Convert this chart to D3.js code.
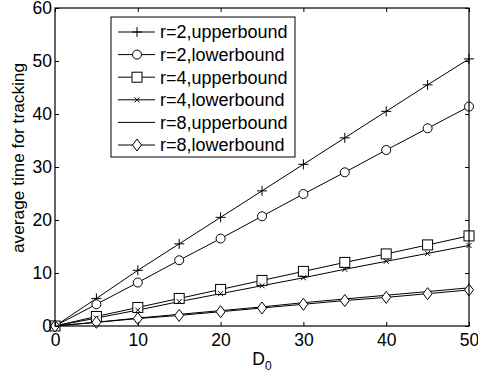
<!DOCTYPE html>
<html>
<head>
<meta charset="utf-8">
<script src="https://cdn.jsdelivr.net/npm/d3@7"></script>
<style>
  body { margin: 0; background: #fff; }
  text { font-family: "Liberation Sans", Arial, sans-serif; }
</style>
</head>
<body>
<div id="chart"></div>
<script>
const D0 = [0, 5, 10, 15, 20, 25, 30, 35, 40, 45, 50];
const r2Upper = [0, 5.2, 10.5, 15.5, 20.5, 25.5, 30.5, 35.5, 40.5, 45.5, 50.4];
const r2Lower = [0, 4.1, 8.2, 12.4, 16.5, 20.7, 24.9, 29.0, 33.2, 37.3, 41.4];
const r4Upper = [0, 1.8, 3.5, 5.2, 6.9, 8.6, 10.3, 12.0, 13.6, 15.3, 17.0];
const r4Lower = [0, 1.5, 3.0, 4.6, 6.1, 7.6, 9.1, 10.7, 12.2, 13.7, 15.2];
const r8Upper = [0, 0.7, 1.5, 2.2, 2.9, 3.6, 4.4, 5.1, 5.8, 6.5, 7.2];
const r8Lower = [0, 0.7, 1.4, 2.0, 2.7, 3.4, 4.1, 4.8, 5.4, 6.1, 6.8];
const seriesNames = ["r=2,upperbound", "r=2,lowerbound", "r=4,upperbound", "r=4,lowerbound", "r=8,upperbound", "r=8,lowerbound"];
const markers = ["plus", "circle", "square", "cross", "none", "diamond"];
const xTicks = [0, 10, 20, 30, 40, 50];
const yTicks = [0, 10, 20, 30, 40, 50, 60];

const series = [r2Upper, r2Lower, r4Upper, r4Lower, r8Upper, r8Lower].map((v, i) => ({
  name: seriesNames[i], marker: markers[i], values: v.map((y, j) => ({x: D0[j], y}))
}));

const W = 478, H = 377;
const margin = {top: 8, right: 9, bottom: 51, left: 55};
const width = W - margin.left - margin.right;
const height = H - margin.top - margin.bottom;

const svg = d3.select("#chart").append("svg")
  .attr("width", W).attr("height", H);
const g = svg.append("g").attr("transform", `translate(${margin.left},${margin.top})`);

const x = d3.scaleLinear().domain([0, 50]).range([0, width]);
const y = d3.scaleLinear().domain([0, 60]).range([height, 0]);

function drawMarker(sel, type) {
  const s = sel.append("g").attr("fill", "none").attr("stroke", "#000").attr("stroke-width", 1);
  if (type === "plus") {
    s.append("path").attr("d", "M-5,0H5M0,-5V5");
  } else if (type === "circle") {
    s.append("circle").attr("r", 4.5).attr("fill", "#fff");
  } else if (type === "square") {
    s.append("rect").attr("x", -5).attr("y", -5).attr("width", 10).attr("height", 10).attr("fill", "#fff");
  } else if (type === "cross") {
    s.append("path").attr("d", "M-2.5,-2.5L2.5,2.5M-2.5,2.5L2.5,-2.5");
  } else if (type === "diamond") {
    s.append("path").attr("d", "M0,-6L4.5,0L0,6L-4.5,0Z").attr("fill", "#fff");
  }
}

// series lines
const line = d3.line().x(d => x(d.x)).y(d => y(d.y));
series.forEach(s => {
  g.append("path").datum(s.values)
    .attr("fill", "none").attr("stroke", "#000").attr("stroke-width", 1)
    .attr("d", line);
});
series.forEach(s => {
  if (s.marker === "none") return;
  g.selectAll(null).data(s.values).enter().append("g")
    .attr("transform", d => `translate(${x(d.x)},${y(d.y)})`)
    .each(function() { drawMarker(d3.select(this), s.marker); });
});

// axes, inward ticks
const tick = 4;
const axisStyle = a => {
  a.select(".domain").remove();
  a.selectAll("line").attr("stroke", "#000");
  a.selectAll("text").attr("font-size", "17.5px").attr("fill", "#000");
};
g.append("g").attr("transform", `translate(0,${height})`)
  .call(d3.axisBottom(x).tickValues(xTicks).tickSize(-tick).tickPadding(8))
  .call(axisStyle);
g.append("g")
  .call(d3.axisLeft(y).tickValues(yTicks).tickSize(-tick).tickPadding(3))
  .call(axisStyle);
g.append("g")
  .call(d3.axisTop(x).tickValues(xTicks).tickSize(-tick).tickFormat(""))
  .call(axisStyle);
g.append("g").attr("transform", `translate(${width},0)`)
  .call(d3.axisRight(y).tickValues(yTicks).tickSize(-tick).tickFormat(""))
  .call(axisStyle);
g.append("rect").attr("width", width).attr("height", height)
  .attr("fill", "none").attr("stroke", "#000").attr("stroke-width", 1.2);

// axis labels
const xl = svg.append("text").attr("x", margin.left + width / 2).attr("y", 365)
  .attr("text-anchor", "middle").attr("font-size", "17.5px");
xl.append("tspan").text("D");
xl.append("tspan").attr("font-size", "12px").attr("dy", 5).text("0");
svg.append("text").attr("transform", "translate(24,158) rotate(-90)")
  .attr("text-anchor", "middle").attr("font-size", "17.3px").text("average time for tracking");

// legend
const lg = svg.append("g").attr("transform", "translate(111,17)");
lg.append("rect").attr("width", 184).attr("height", 140)
  .attr("fill", "#fff").attr("stroke", "#000").attr("stroke-width", 1);
series.forEach((s, i) => {
  const row = lg.append("g").attr("transform", `translate(0,${15 + i * 22.6})`);
  row.append("line").attr("x1", 7).attr("x2", 44).attr("stroke", "#000");
  drawMarker(row.append("g").attr("transform", "translate(26,0)"), s.marker);
  row.append("text").attr("x", 49).attr("dy", "0.35em").attr("font-size", "18px").text(s.name);
});
</script>
</body>
</html>
